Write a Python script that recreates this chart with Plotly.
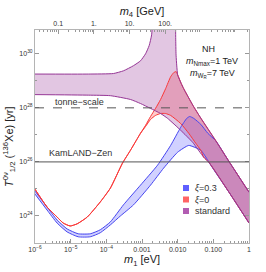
import numpy as np
import plotly.graph_objects as go

# ---------------- data (log10 values) ----------------
# standard band: lower edge (min T) and upper edge (max T, split by the cancellation region)
std_lower_logm1 = [-6.0, -4.5, -3.887, -3.324, -3.042, -2.761, -2.479, -2.282, -1.915, -1.577, -1.268, -1.127, -0.507, 0.0]
std_lower_logT = [28.49, 28.47, 28.45, 28.31, 28.16, 27.98, 27.79, 27.61, 27.17, 26.72, 26.17, 25.99, 24.77, 23.74]
std_upper_left_logm1 = [-6.0, -4.5, -3.8, -3.521, -3.239, -3.042, -2.9, -2.8, -2.73, -2.69]
std_upper_left_logT = [29.25, 29.25, 29.27, 29.37, 29.56, 29.74, 30.0, 30.3, 30.7, 31.6]
std_upper_right_logm1 = [-2.06, -2.055, -2.045, -2.025, -2.0, -1.9, -1.831, -1.577, -1.352, -0.93, -0.592, 0.0]
std_upper_right_logT = [31.6, 30.6, 29.95, 29.55, 29.22, 28.9, 28.71, 28.10, 27.62, 26.78, 26.08, 24.88]

# xi = 0 band
red_common_logm1 = [-6.0, -5.662, -5.38, -5.211, -5.014, -4.817, -4.535, -4.169, -3.887, -3.549, -3.324, -3.127, -3.042]
red_common_logT = [24.99, 24.33, 23.96, 23.74, 23.63, 23.71, 23.96, 24.52, 25.03, 25.95, 26.43, 26.87, 27.06]
red_upper_logm1 = [-2.901, -2.761, -2.62, -2.479, -2.338, -2.197, -2.113, -2.042]
red_upper_logT = [27.35, 27.68, 27.98, 28.31, 28.71, 29.15, 29.30, 29.34]
red_lower_logm1 = [-2.901, -2.761, -2.62, -2.479, -2.338, -2.197, -1.915, -1.69, -1.493, -1.352]
red_lower_logT = [27.31, 27.57, 27.72, 27.79, 27.79, 27.72, 27.42, 27.06, 26.69, 26.43]

# xi = 0.3 band
blue_upper_logm1 = [-6.0, -5.662, -5.38, -5.099, -4.789, -4.451, -4.169, -3.887, -3.521, -3.042, -2.563, -2.197, -1.915, -1.746, -1.662, -1.549, -1.352, -1.155]
blue_upper_logT = [24.92, 24.33, 23.85, 23.52, 23.34, 23.34, 23.49, 23.78, 24.41, 25.14, 25.88, 26.61, 27.28, 27.61, 27.68, 27.61, 27.39, 27.06]
blue_lower_logm1 = [-6.0, -5.662, -5.38, -5.099, -4.789, -4.451, -4.169, -3.887, -3.606, -3.239, -2.761, -2.394, -2.0, -1.69, -1.352, -1.155]
blue_lower_logT = [24.81, 24.22, 23.74, 23.41, 23.23, 23.23, 23.38, 23.67, 24.0, 24.41, 25.14, 25.77, 26.36, 26.61, 26.43, 26.06]

# experimental limits
tonne_scale_T = 1e28
kamland_T = 1e26

# axis ticks
x_tickvals = [1e-6, 1e-5, 1e-4, 1e-3, 1e-2, 1e-1, 1]
x_ticktext = ['10<sup>−6</sup>', '10<sup>−5</sup>', '10<sup>−4</sup>', '0.001', '0.010', '0.100', '1']
y_tickvals = [1e24, 1e26, 1e28, 1e30]
y_ticktext = ['10<sup>24</sup>', '10<sup>26</sup>', '10<sup>28</sup>', '10<sup>30</sup>']
m4_tickvals = [0.1, 1, 10, 100]
m4_ticktext = ['0.1', '1.', '10.', '100.']
m4_offset = 4.35   # log10(m4/GeV) - log10(m1/eV)

legend_labels = ['<i>ξ</i>=0.3', '<i>ξ</i>=0', 'standard']

# ---------------- build edges ----------------
def pw(a):
    return list(10 ** np.array(a, dtype=float))

def tail(xs, ys, start, strict=False):
    out_x, out_y = [], []
    for a, b in zip(xs, ys):
        if (a > start) if strict else (a >= start):
            out_x.append(a); out_y.append(b)
    return out_x, out_y

std_poly_x = std_lower_logm1 + std_upper_right_logm1[::-1] + std_upper_left_logm1[::-1]
std_poly_y = std_lower_logT + std_upper_right_logT[::-1] + std_upper_left_logT[::-1]

tx, ty = tail(std_upper_right_logm1, std_upper_right_logT, -2.0)
red_up_x = red_common_logm1 + red_upper_logm1 + tx
red_up_y = red_common_logT + red_upper_logT + ty
tx, ty = tail(std_lower_logm1, std_lower_logT, -1.352, strict=True)
red_lo_x = red_common_logm1 + red_lower_logm1 + tx
red_lo_y = red_common_logT + red_lower_logT + ty

tx, ty = tail(std_upper_right_logm1, std_upper_right_logT, -0.93)
blue_up_x = blue_upper_logm1 + tx
blue_up_y = blue_upper_logT + ty
tx, ty = tail(std_lower_logm1, std_lower_logT, -1.155, strict=True)
blue_lo_x = blue_lower_logm1 + tx
blue_lo_y = blue_lower_logT + ty

BLUE_LINE = 'rgb(70,70,240)'
RED_LINE = 'rgb(250,55,55)'
PUR_LINE = 'rgb(150,55,150)'
BLUE_FILL = 'rgba(90,90,255,0.28)'
RED_FILL = 'rgba(255,80,80,0.30)'
PUR_FILL = 'rgba(150,50,150,0.28)'
SHAPE = 'spline'
SM = 0.5

fig = go.Figure()

def band(upx, upy, lox, loy, fillc):
    fig.add_trace(go.Scatter(x=pw(upx + lox[::-1]), y=pw(upy + loy[::-1]), mode='lines',
                             line=dict(width=0, shape='linear'), fill='toself', fillcolor=fillc,
                             hoverinfo='skip', showlegend=False))

def edge(xs, ys, col, w=1.0):
    fig.add_trace(go.Scatter(x=pw(xs), y=pw(ys), mode='lines',
                             line=dict(color=col, width=w, shape=SHAPE, smoothing=SM),
                             hoverinfo='skip', showlegend=False))

band(blue_up_x, blue_up_y, blue_lo_x, blue_lo_y, BLUE_FILL)
band(red_up_x, red_up_y, red_lo_x, red_lo_y, RED_FILL)
fig.add_trace(go.Scatter(x=pw(std_poly_x), y=pw(std_poly_y), mode='lines', line=dict(width=0),
                         fill='toself', fillcolor=PUR_FILL, hoverinfo='skip', showlegend=False))

edge(blue_up_x, blue_up_y, BLUE_LINE)
edge(blue_lo_x, blue_lo_y, BLUE_LINE)
edge(red_up_x, red_up_y, RED_LINE)
edge(red_lo_x, red_lo_y, RED_LINE)
edge(std_lower_logm1, std_lower_logT, PUR_LINE)
edge(std_upper_left_logm1, std_upper_left_logT, PUR_LINE)
edge(std_upper_right_logm1, std_upper_right_logT, PUR_LINE)

# invisible trace so the top (m4) axis is drawn
fig.add_trace(go.Scatter(x=[1.0], y=[1e25], xaxis='x2', yaxis='y', mode='markers',
                         marker=dict(opacity=0), hoverinfo='skip', showlegend=False))

fig.add_hline(y=tonne_scale_T, line=dict(color='#555555', width=1, dash='dash'))
fig.add_hline(y=kamland_T, line=dict(color='#555555', width=1))

FRAME = '#b4b4b4'
TICKC = '#999999'
x_minor = [m * 10.0 ** e for e in range(-6, 0) for m in range(2, 10)]
m4_minor = [m * 10.0 ** e for e in range(-2, 5) for m in range(2, 10)]
y_minor = [1e23, 1e25, 1e27, 1e29]

fig.update_layout(
    width=266, height=272,
    margin=dict(l=35, r=17, t=30, b=29, autoexpand=False),
    paper_bgcolor='white', plot_bgcolor='white', showlegend=False,
    font=dict(family='Liberation Sans, Arial, sans-serif', size=9, color='#333333'),
    xaxis=dict(type='log', range=[-6, 0], tickvals=x_tickvals, ticktext=x_ticktext,
               ticks='inside', ticklen=4, tickcolor=TICKC, tickfont=dict(size=7, color='#333333'),
               showline=True, linecolor=FRAME, linewidth=1, mirror=False,
               showgrid=False, zeroline=False,
               minor=dict(tickvals=x_minor, ticks='inside', ticklen=2, tickcolor=TICKC),
               title=dict(text='<i>m</i><sub>1</sub> [eV]', font=dict(size=11, color='#222222'), standoff=2)),
    xaxis2=dict(type='log', overlaying='x', side='top', anchor='y',
                range=[-6 + m4_offset, 0 + m4_offset], tickvals=m4_tickvals, ticktext=m4_ticktext,
                ticks='inside', ticklen=4, tickcolor=TICKC, tickfont=dict(size=7, color='#333333'),
                showline=True, linecolor=FRAME, linewidth=1, showgrid=False, zeroline=False,
                minor=dict(tickvals=m4_minor, ticks='inside', ticklen=2, tickcolor=TICKC),
                title=dict(text='<i>m</i><sub>4</sub> [GeV]', font=dict(size=11, color='#222222'), standoff=2)),
    yaxis=dict(type='log', range=[23, 30.88], tickvals=y_tickvals, ticktext=y_ticktext,
               ticks='inside', ticklen=4, tickcolor=TICKC, tickfont=dict(size=7, color='#333333'),
               showline=True, linecolor=FRAME, linewidth=1, mirror='ticks',
               showgrid=False, zeroline=False,
               minor=dict(tickvals=y_minor, ticks='inside', ticklen=2, tickcolor=TICKC)),
)

def px_x(px):
    return (px - 35) / 214.0

def px_y(py):
    return (243 - py) / 213.0

def label(text, x, y, size=9, xanchor='center', angle=0, color='#222222'):
    fig.add_annotation(text=text, x=px_x(x), y=px_y(y), xref='paper', yref='paper',
                       xanchor=xanchor, yanchor='middle', textangle=angle, showarrow=False,
                       font=dict(size=size, color=color))

label('NH', 208, 49)
label('<i>m</i><sub>Nmax</sub>=1 TeV', 212, 61.5)
label('<i>m</i><sub>W<sub>R</sub></sub>=7 TeV', 212, 74)
label('tonne−scale', 53, 102, xanchor='left', color='#333333')
label('KamLAND−Zen', 47, 153, xanchor='left', color='#333333')
label('<i>T</i><sup>0ν</sup><sub>1/2</sub> (<sup>136</sup>Xe) [yr]', 9, 147, size=11, angle=-90)

leg_cols = ['rgb(95,95,255)', 'rgb(255,100,100)', 'rgb(178,92,178)']
leg_y = [188, 199.5, 211]
for lab, col, yy in zip(legend_labels, leg_cols, leg_y):
    fig.add_shape(type='rect', xref='paper', yref='paper', x0=px_x(183), x1=px_x(189),
                  y0=px_y(yy + 3), y1=px_y(yy - 3), fillcolor=col, line=dict(width=0))
    label(lab, 193, yy, xanchor='left', color='#333333')

fig.write_html('out.html', config={'displayModeBar': False},
               post_script="document.body.style.margin='0';document.body.style.overflow='hidden';")
